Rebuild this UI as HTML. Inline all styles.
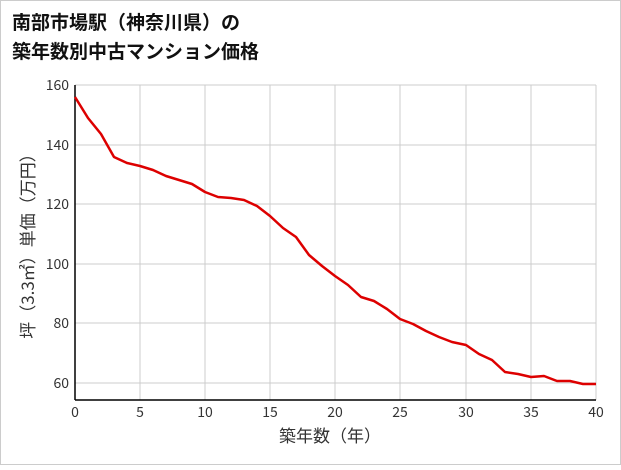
<!DOCTYPE html>
<html><head><meta charset="utf-8"><style>
body{margin:0;background:#fff;}
svg text{font-family:"Noto Sans CJK JP","Liberation Sans",sans-serif;}
</style></head><body>
<svg width="621" height="465" xmlns="http://www.w3.org/2000/svg">
<rect x="0.5" y="0.5" width="620" height="464" fill="#fff" stroke="#ccc"/>
<text x="12" y="29" font-size="19" font-weight="bold" fill="#111">南部市場駅（神奈川県）の</text>
<text x="12" y="58" font-size="19" font-weight="bold" fill="#111">築年数別中古マンション価格</text>
<g stroke="#ccc" stroke-width="1">
<line x1="75" y1="85" x2="596" y2="85"/><line x1="75" y1="145" x2="596" y2="145"/>
<line x1="75" y1="204" x2="596" y2="204"/><line x1="75" y1="264" x2="596" y2="264"/>
<line x1="75" y1="323" x2="596" y2="323"/><line x1="75" y1="383" x2="596" y2="383"/>
<line x1="140" y1="85" x2="140" y2="400"/><line x1="205" y1="85" x2="205" y2="400"/>
<line x1="270" y1="85" x2="270" y2="400"/><line x1="335" y1="85" x2="335" y2="400"/>
<line x1="400" y1="85" x2="400" y2="400"/><line x1="466" y1="85" x2="466" y2="400"/>
<line x1="531" y1="85" x2="531" y2="400"/><line x1="596" y1="85" x2="596" y2="400"/>
</g>
<line x1="75" y1="85" x2="75" y2="400" stroke="#000" stroke-width="1.5"/>
<line x1="75" y1="400" x2="596" y2="400" stroke="#000" stroke-width="1.5"/>
<g font-size="14" fill="#333" text-anchor="end">
<text x="69" y="90">160</text><text x="69" y="150">140</text><text x="69" y="209">120</text>
<text x="69" y="269">100</text><text x="69" y="328">80</text><text x="69" y="388">60</text>
</g>
<g font-size="14" fill="#333" text-anchor="middle">
<text x="75" y="417">0</text><text x="140" y="417">5</text><text x="205" y="417">10</text>
<text x="270" y="417">15</text><text x="335" y="417">20</text><text x="400" y="417">25</text>
<text x="466" y="417">30</text><text x="531" y="417">35</text><text x="596" y="417">40</text>
</g>
<text x="330" y="442" font-size="17" fill="#333" text-anchor="middle">築年数（年）</text>
<text transform="translate(34,242) rotate(-90)" font-size="17" fill="#333" text-anchor="middle">坪（3.3㎡）単価（万円）</text>
<polyline fill="none" stroke="#d00" stroke-width="2.5" stroke-linejoin="round" points="
75,97 88,118 101,134 114,157 127,163 140,166 153,170 166,176 179,180 192,184 205,192 218,197 231,198 244,200 257,206 270,216 283,228 296,237 309,255 322,266 335,276 348,285 361,297 374,301 387,309 400,319 413,324 426,331 439,337 452,342 466,345 479,354 492,360 505,372 518,374 531,377 544,376 557,381 570,381 583,384 596,384"/>
</svg>
</body></html>
